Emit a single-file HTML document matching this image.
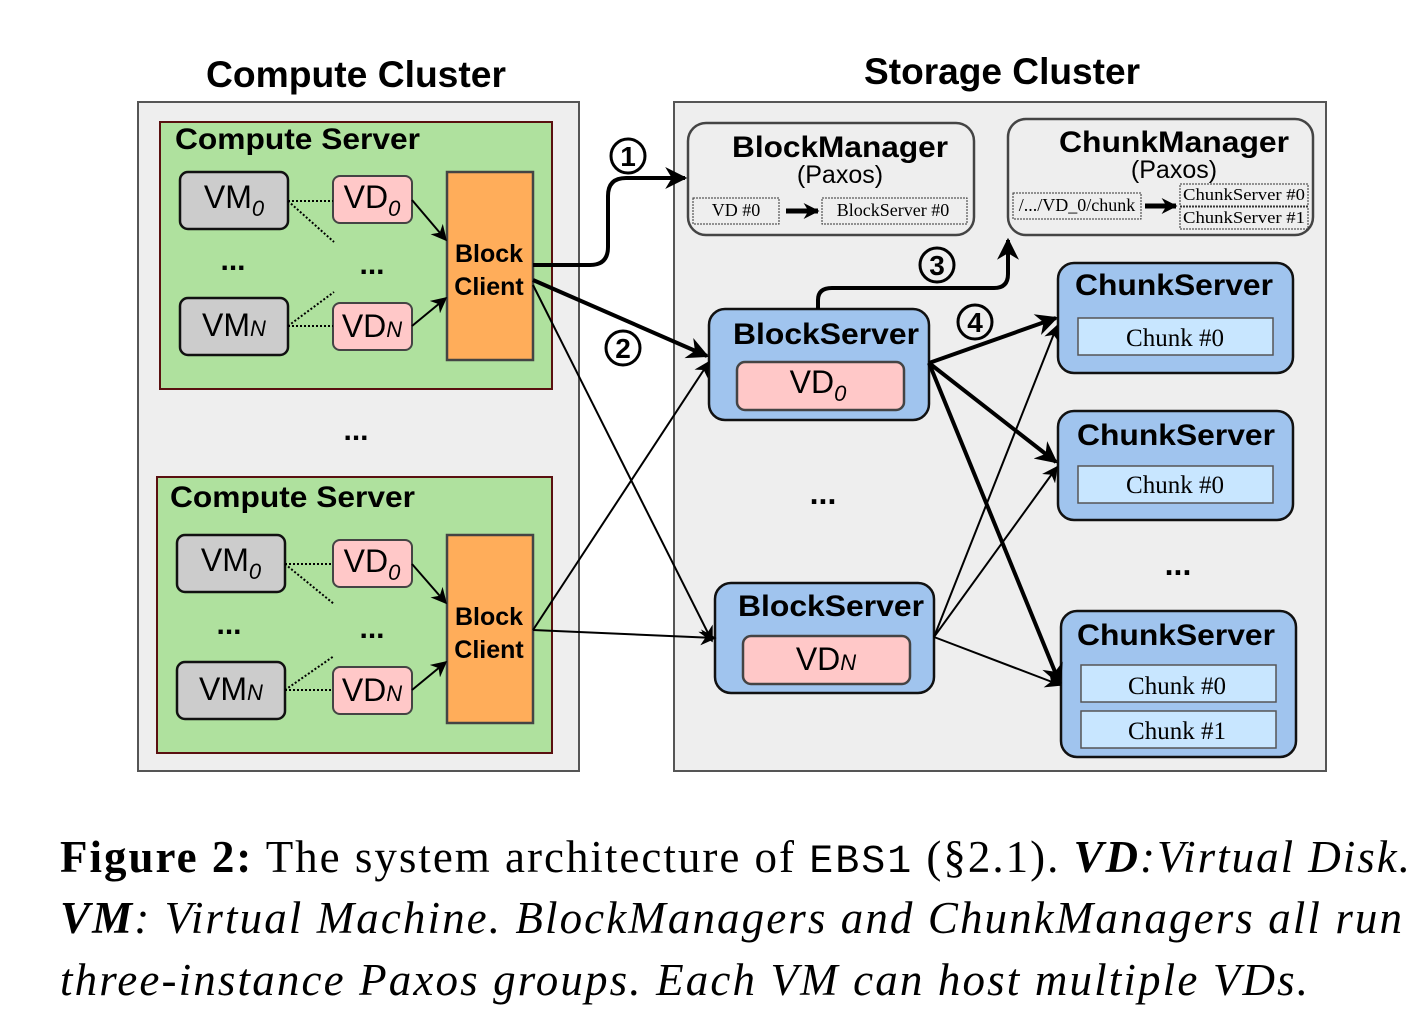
<!DOCTYPE html>
<html><head><meta charset="utf-8"><style>
html,body{margin:0;padding:0;background:#fff;}
svg{display:block;}
.b{font-family:"Liberation Sans",sans-serif;font-weight:bold;}
.s{font-family:"Liberation Sans",sans-serif;}
.r{font-family:"Liberation Serif",serif;}
</style></head><body>
<svg width="1414" height="1036" viewBox="0 0 1414 1036" xmlns="http://www.w3.org/2000/svg">
<defs>
<marker id="A" viewBox="0 0 10 10" refX="9" refY="5" markerWidth="22" markerHeight="22" orient="auto" markerUnits="userSpaceOnUse"><path d="M0,0 L10,5 L0,10 L3,5z" fill="#000"/></marker>
<marker id="T" viewBox="0 0 10 10" refX="9" refY="5" markerWidth="16" markerHeight="16" orient="auto" markerUnits="userSpaceOnUse"><path d="M0,0 L10,5 L0,10 L3,5z" fill="#000"/></marker>
</defs>
<text x="356" y="87" class="b" font-size="37" text-anchor="middle" textLength="300" lengthAdjust="spacingAndGlyphs">Compute Cluster</text>
<text x="1002" y="84" class="b" font-size="37" text-anchor="middle" textLength="276" lengthAdjust="spacingAndGlyphs">Storage Cluster</text>
<rect x="138" y="102" width="441" height="669" fill="#eeeeee" stroke="#555" stroke-width="2"/>
<rect x="674" y="102" width="652" height="669" fill="#eeeeee" stroke="#555" stroke-width="2"/>

<!-- compute server 1 -->
<rect x="160" y="122" width="392" height="267" fill="#afe19e" stroke="#5a1010" stroke-width="2"/>
<text x="175" y="149" class="b" font-size="30" textLength="245" lengthAdjust="spacingAndGlyphs">Compute Server</text>
<rect x="180" y="172" width="108" height="57" rx="8" fill="#cccccc" stroke="#111" stroke-width="2.5"/>
<text x="234" y="208" class="s" font-size="32" text-anchor="middle">VM<tspan font-style="italic" font-size="22" dy="8">0</tspan></text>
<rect x="180" y="298" width="108" height="57" rx="8" fill="#cccccc" stroke="#111" stroke-width="2.5"/>
<text x="234" y="336" class="s" font-size="32" text-anchor="middle">VM<tspan font-style="italic" font-size="22">N</tspan></text>
<rect x="333" y="176" width="79" height="47" rx="7" fill="#ffc8c8" stroke="#444" stroke-width="2"/>
<text x="372" y="208" class="s" font-size="32" text-anchor="middle">VD<tspan font-style="italic" font-size="22" dy="8">0</tspan></text>
<rect x="333" y="303" width="79" height="47" rx="7" fill="#ffc8c8" stroke="#444" stroke-width="2"/>
<text x="372" y="337" class="s" font-size="32" text-anchor="middle">VD<tspan font-style="italic" font-size="22">N</tspan></text>
<rect x="447" y="172" width="86" height="188" fill="#ffad5a" stroke="#444" stroke-width="2.5"/>
<text x="489" y="262" class="b" font-size="25" text-anchor="middle">Block</text>
<text x="489" y="295" class="b" font-size="25" text-anchor="middle">Client</text>
<g stroke="#000" stroke-width="2" stroke-dasharray="2,2" fill="none">
<line x1="288" y1="201" x2="333" y2="201"/><line x1="288" y1="201" x2="334" y2="242"/>
<line x1="288" y1="326" x2="333" y2="326"/><line x1="288" y1="326" x2="334" y2="292"/>
</g>
<text x="233" y="270" class="b" font-size="30" text-anchor="middle">...</text>
<text x="372" y="274" class="b" font-size="30" text-anchor="middle">...</text>
<g stroke="#000" stroke-width="2" fill="none">
<line x1="412" y1="200" x2="446" y2="240" marker-end="url(#T)"/>
<line x1="412" y1="326" x2="446" y2="298" marker-end="url(#T)"/>
</g>

<text x="356" y="440" class="b" font-size="30" text-anchor="middle">...</text>

<!-- compute server 2 -->
<rect x="157" y="477" width="395" height="276" fill="#afe19e" stroke="#5a1010" stroke-width="2"/>
<text x="170" y="507" class="b" font-size="30" textLength="245" lengthAdjust="spacingAndGlyphs">Compute Server</text>
<rect x="177" y="535" width="108" height="57" rx="8" fill="#cccccc" stroke="#111" stroke-width="2.5"/>
<text x="231" y="571" class="s" font-size="32" text-anchor="middle">VM<tspan font-style="italic" font-size="22" dy="8">0</tspan></text>
<rect x="177" y="662" width="108" height="57" rx="8" fill="#cccccc" stroke="#111" stroke-width="2.5"/>
<text x="231" y="700" class="s" font-size="32" text-anchor="middle">VM<tspan font-style="italic" font-size="22">N</tspan></text>
<rect x="333" y="540" width="79" height="47" rx="7" fill="#ffc8c8" stroke="#444" stroke-width="2"/>
<text x="372" y="572" class="s" font-size="32" text-anchor="middle">VD<tspan font-style="italic" font-size="22" dy="8">0</tspan></text>
<rect x="333" y="667" width="79" height="47" rx="7" fill="#ffc8c8" stroke="#444" stroke-width="2"/>
<text x="372" y="701" class="s" font-size="32" text-anchor="middle">VD<tspan font-style="italic" font-size="22">N</tspan></text>
<rect x="447" y="535" width="86" height="188" fill="#ffad5a" stroke="#444" stroke-width="2.5"/>
<text x="489" y="625" class="b" font-size="25" text-anchor="middle">Block</text>
<text x="489" y="658" class="b" font-size="25" text-anchor="middle">Client</text>
<g stroke="#000" stroke-width="2" stroke-dasharray="2,2" fill="none">
<line x1="285" y1="564" x2="333" y2="564"/><line x1="285" y1="564" x2="334" y2="604"/>
<line x1="285" y1="690" x2="333" y2="690"/><line x1="285" y1="690" x2="334" y2="656"/>
</g>
<text x="229" y="634" class="b" font-size="30" text-anchor="middle">...</text>
<text x="372" y="638" class="b" font-size="30" text-anchor="middle">...</text>
<g stroke="#000" stroke-width="2" fill="none">
<line x1="412" y1="564" x2="446" y2="603" marker-end="url(#T)"/>
<line x1="412" y1="690" x2="446" y2="662" marker-end="url(#T)"/>
</g>

<!-- managers -->
<rect x="688" y="123" width="286" height="112" rx="18" fill="#eeeeee" stroke="#444" stroke-width="2.5"/>
<text x="840" y="157" class="b" font-size="30" text-anchor="middle" textLength="216" lengthAdjust="spacingAndGlyphs">BlockManager</text>
<text x="840" y="183" class="s" font-size="25" text-anchor="middle">(Paxos)</text>
<rect x="693" y="198" width="86" height="26" fill="none" stroke="#333" stroke-width="1" stroke-dasharray="2,1"/>
<text x="736" y="216" class="r" font-size="18" text-anchor="middle">VD  #0</text>
<line x1="786" y1="211" x2="818" y2="211" stroke="#000" stroke-width="5" marker-end="url(#T)"/>
<rect x="822" y="198" width="145" height="26" fill="none" stroke="#333" stroke-width="1" stroke-dasharray="2,1"/>
<text x="893" y="216" class="r" font-size="18" text-anchor="middle">BlockServer  #0</text>

<rect x="1008" y="119" width="305" height="116" rx="18" fill="#eeeeee" stroke="#444" stroke-width="2.5"/>
<text x="1174" y="152" class="b" font-size="30" text-anchor="middle" textLength="230" lengthAdjust="spacingAndGlyphs">ChunkManager</text>
<text x="1174" y="178" class="s" font-size="25" text-anchor="middle">(Paxos)</text>
<rect x="1013" y="193" width="128" height="26" fill="none" stroke="#333" stroke-width="1" stroke-dasharray="2,1"/>
<text x="1077" y="211" class="r" font-size="18" text-anchor="middle">/.../VD_0/chunk</text>
<line x1="1145" y1="206" x2="1176" y2="206" stroke="#000" stroke-width="5" marker-end="url(#T)"/>
<rect x="1180" y="184" width="128" height="22" fill="none" stroke="#333" stroke-width="1" stroke-dasharray="2,1"/>
<text x="1244" y="200" class="r" font-size="17" text-anchor="middle" textLength="122" lengthAdjust="spacingAndGlyphs">ChunkServer #0</text>
<rect x="1180" y="207" width="128" height="22" fill="none" stroke="#333" stroke-width="1" stroke-dasharray="2,1"/>
<text x="1244" y="223" class="r" font-size="17" text-anchor="middle" textLength="122" lengthAdjust="spacingAndGlyphs">ChunkServer #1</text>

<!-- block servers -->
<rect x="709" y="309" width="220" height="111" rx="16" fill="#a0c4ee" stroke="#111" stroke-width="2.5"/>
<text x="826" y="344" class="b" font-size="30" text-anchor="middle" textLength="186" lengthAdjust="spacingAndGlyphs">BlockServer</text>
<rect x="737" y="362" width="167" height="48" rx="8" fill="#ffc8c8" stroke="#444" stroke-width="2.5"/>
<text x="818" y="393" class="s" font-size="32" text-anchor="middle">VD<tspan font-style="italic" font-size="22" dy="8">0</tspan></text>
<text x="823" y="504" class="b" font-size="32" text-anchor="middle">...</text>
<rect x="715" y="583" width="219" height="110" rx="16" fill="#a0c4ee" stroke="#111" stroke-width="2.5"/>
<text x="831" y="616" class="b" font-size="30" text-anchor="middle" textLength="186" lengthAdjust="spacingAndGlyphs">BlockServer</text>
<rect x="743" y="636" width="167" height="48" rx="8" fill="#ffc8c8" stroke="#444" stroke-width="2.5"/>
<text x="826" y="670" class="s" font-size="32" text-anchor="middle">VD<tspan font-style="italic" font-size="22">N</tspan></text>

<!-- chunk servers -->
<rect x="1058" y="263" width="235" height="110" rx="16" fill="#a0c4ee" stroke="#111" stroke-width="2.5"/>
<text x="1174" y="295" class="b" font-size="30" text-anchor="middle" textLength="198" lengthAdjust="spacingAndGlyphs">ChunkServer</text>
<rect x="1078" y="318" width="195" height="37" fill="#c8e6ff" stroke="#555" stroke-width="1.5"/>
<text x="1175" y="346" class="r" font-size="25" text-anchor="middle">Chunk #0</text>
<rect x="1058" y="411" width="235" height="109" rx="16" fill="#a0c4ee" stroke="#111" stroke-width="2.5"/>
<text x="1176" y="445" class="b" font-size="30" text-anchor="middle" textLength="198" lengthAdjust="spacingAndGlyphs">ChunkServer</text>
<rect x="1078" y="466" width="195" height="37" fill="#c8e6ff" stroke="#555" stroke-width="1.5"/>
<text x="1175" y="493" class="r" font-size="25" text-anchor="middle">Chunk #0</text>
<text x="1178" y="575" class="b" font-size="32" text-anchor="middle">...</text>
<rect x="1061" y="611" width="235" height="146" rx="16" fill="#a0c4ee" stroke="#111" stroke-width="2.5"/>
<text x="1176" y="645" class="b" font-size="30" text-anchor="middle" textLength="198" lengthAdjust="spacingAndGlyphs">ChunkServer</text>
<rect x="1081" y="665" width="195" height="37" fill="#c8e6ff" stroke="#555" stroke-width="1.5"/>
<text x="1177" y="694" class="r" font-size="25" text-anchor="middle">Chunk #0</text>
<rect x="1081" y="711" width="195" height="37" fill="#c8e6ff" stroke="#555" stroke-width="1.5"/>
<text x="1177" y="739" class="r" font-size="25" text-anchor="middle">Chunk #1</text>

<!-- connectors -->
<g fill="none" stroke="#000">
<path d="M533,265 L590,265 Q608,265 608,247 L608,196 Q608,178 626,178 L685,178" stroke-width="4" marker-end="url(#A)"/>
<line x1="533" y1="280" x2="707" y2="356" stroke-width="4" marker-end="url(#A)"/>
<line x1="533" y1="285" x2="712" y2="641" stroke-width="2" marker-end="url(#T)"/>
<line x1="533" y1="630" x2="709" y2="362" stroke-width="2" marker-end="url(#T)"/>
<line x1="533" y1="630" x2="715" y2="638" stroke-width="2" marker-end="url(#T)"/>
<path d="M818,309 L818,300 Q818,288 832,288 L994,288 Q1008,288 1008,274 L1008,240" stroke-width="4" marker-end="url(#A)"/>
<line x1="929" y1="363" x2="1056" y2="318" stroke-width="4" marker-end="url(#A)"/>
<line x1="929" y1="363" x2="1056" y2="462" stroke-width="4" marker-end="url(#A)"/>
<line x1="929" y1="363" x2="1060" y2="684" stroke-width="4" marker-end="url(#A)"/>
<line x1="934" y1="637" x2="1057" y2="326" stroke-width="2" marker-end="url(#T)"/>
<line x1="934" y1="637" x2="1057" y2="467" stroke-width="2" marker-end="url(#T)"/>
<line x1="934" y1="637" x2="1060" y2="685" stroke-width="2" marker-end="url(#T)"/>
</g>
<g fill="none" stroke="#000" stroke-width="3">
<circle cx="628" cy="156" r="17"/>
<circle cx="623" cy="348" r="17"/>
<circle cx="937" cy="265" r="17"/>
<circle cx="975" cy="322" r="17"/>
</g>
<g class="b" font-size="28" text-anchor="middle">
<text x="628" y="166">1</text>
<text x="623" y="358">2</text>
<text x="937" y="275">3</text>
<text x="975" y="332">4</text>
</g>

<!-- caption -->
<g class="r" font-size="45">
<text x="60" y="872" textLength="1350" lengthAdjust="spacing"><tspan font-weight="bold">Figure 2:</tspan> The system architecture of <tspan font-family="Liberation Mono,monospace" font-size="40">EBS1</tspan> (§2.1). <tspan font-style="italic"><tspan font-weight="bold">VD</tspan>:Virtual Disk.</tspan></text>
<text x="60" y="933" font-style="italic" textLength="1342" lengthAdjust="spacing"><tspan font-weight="bold">VM</tspan>: Virtual Machine. BlockManagers and ChunkManagers all run</text>
<text x="60" y="995" font-style="italic" textLength="1248" lengthAdjust="spacing">three-instance Paxos groups. Each VM can host multiple VDs.</text>
</g>
</svg>
</body></html>
